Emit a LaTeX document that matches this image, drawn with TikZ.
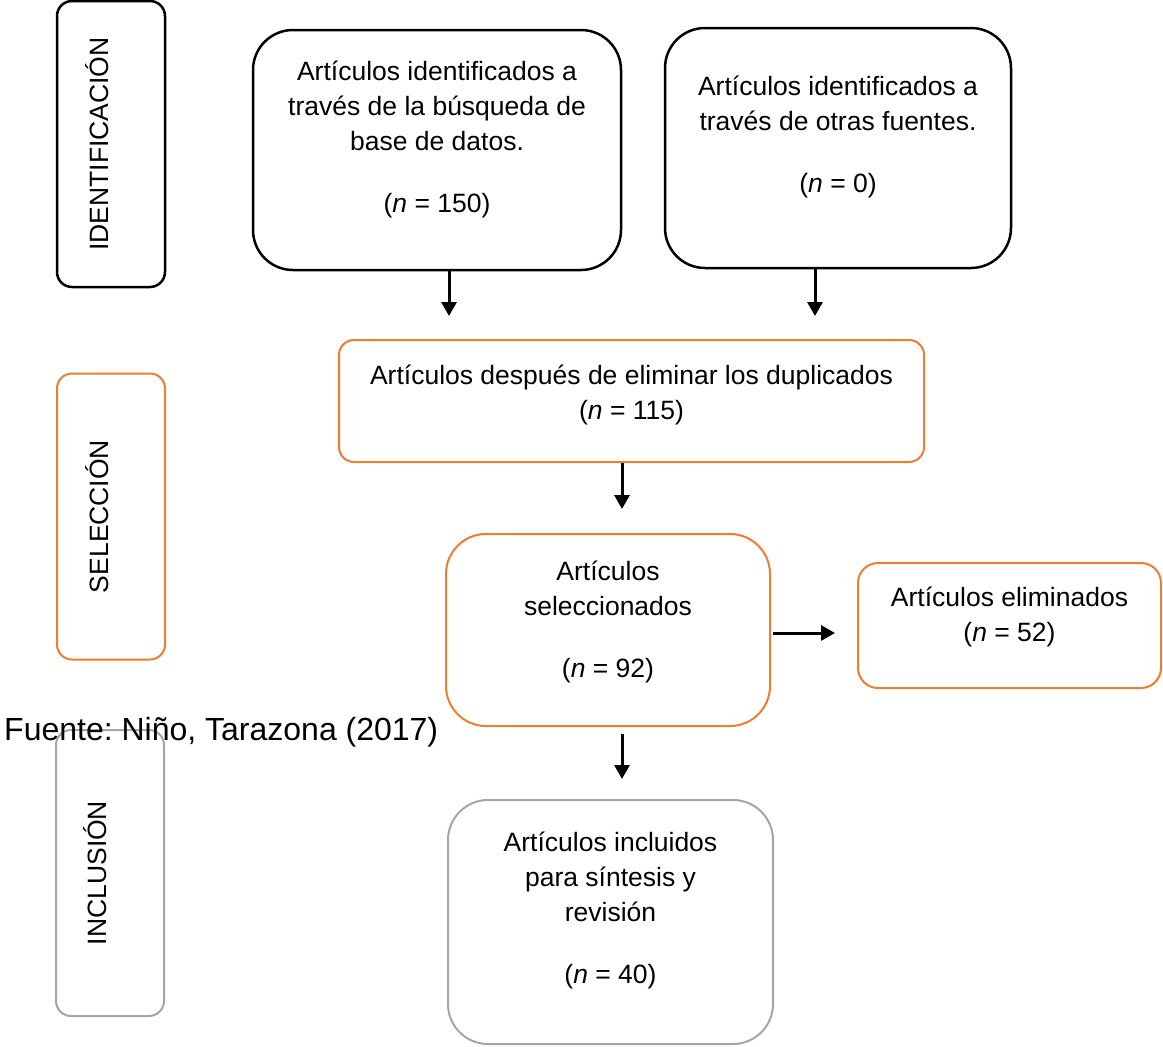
\documentclass[tikz,border=0pt]{standalone}
\usepackage{fontspec}
\setmainfont{Liberation Sans}
\usetikzlibrary{arrows.meta, positioning, calc}
\definecolor{naranja}{HTML}{ED7D31}
\definecolor{gris}{HTML}{A5A5A5}
\frenchspacing
% baja el centro del texto dentro de la caja
\newcommand{\bajar}[1]{\rule[-#1pt]{0pt}{0pt}}

\begin{document}
\begin{tikzpicture}[
        x=1pt, y=-1pt,
        every node/.style={font=\fontsize{26.5}{35}\selectfont, align=center, inner sep=0pt},
        fase/.style={rectangle, draw, line width=2.5pt, rounded corners=15pt, rotate=90,
            minimum width=286pt, minimum height=108pt},
        caja/.style={rectangle, draw, line width=2.5pt, rounded corners=40pt},
        caja_nar/.style={caja, draw=naranja, line width=2pt},
        caja_gris/.style={caja, draw=gris, line width=2pt},
        arrow/.style={-{Triangle[length=14pt,width=15pt]}, line width=3pt}
    ]
    \useasboundingbox (0,0) rectangle (1163,1047);

    % etapas
    \node[fase] (ident) at (111,144) {IDENTIFICACIÓN\bajar{28}};
    \node[fase, draw=naranja, line width=2pt] (selec) at (111,516.5) {SELECCIÓN\bajar{28}};
    \node[fase, draw=gris, line width=2pt] (inclu) at (110,873) {INCLUSIÓN\bajar{30}};

    % cajas
    \node[caja, minimum width=368pt, minimum height=240pt] (bd) at (437,150)
        {Artículos identificados a\\ través de la búsqueda de\\ base de datos.\\[27pt] (\textit{n} = 150)\bajar{26}};
    \node[caja, minimum width=346pt, minimum height=240pt] (otras) at (838,148)
        {Artículos identificados a\\ través de otras fuentes.\\[27pt] (\textit{n} = 0)\bajar{27}};
    \node[caja_nar, rounded corners=15pt, minimum width=585pt, minimum height=122pt] (dup) at (631.5,401)
        {Artículos después de eliminar los duplicados\\ (\textit{n} = 115)\bajar{18}};
    \node[caja_nar, minimum width=324pt, minimum height=192pt] (selecc) at (608,630)
        {Artículos\\ seleccionados\\[27pt] (\textit{n} = 92)\bajar{21}};
    \node[caja_nar, rounded corners=20pt, minimum width=303pt, minimum height=125pt] (elim) at (1009.5,625.5)
        {Artículos eliminados\\ (\textit{n} = 52)\bajar{22}};
    \node[caja_gris, minimum width=325pt, minimum height=244pt] (incl) at (610.5,922)
        {Artículos incluidos\\ para síntesis y\\ revisión\\[27pt] (\textit{n} = 40)\bajar{28}};

    \node[anchor=base west, font=\fontsize{32}{38}\selectfont] (fuente) at (4,740)
        {Fuente: Niño, Tarazona (2017)};

    % flechas
    \draw[arrow, shorten >=23pt] ([xshift=12]bd.south) -- ([xshift=12]bd.south |- dup.north);
    \draw[arrow, shorten >=23pt] ([xshift=-23]otras.south) -- ([xshift=-23]otras.south |- dup.north);
    \draw[arrow, shorten >=24pt] ([xshift=-9.5]dup.south) -- ([xshift=-9.5]dup.south |- selecc.north);
    \draw[arrow, shorten <=2pt, shorten >=22pt] ([yshift=-3]selecc.east) -- ([yshift=-3]selecc.east -| elim.west);
    \draw[arrow, shorten <=7pt, shorten >=20pt] ([xshift=14]selecc.south) -- ([xshift=14]selecc.south |- incl.north);
\end{tikzpicture}
\end{document}
